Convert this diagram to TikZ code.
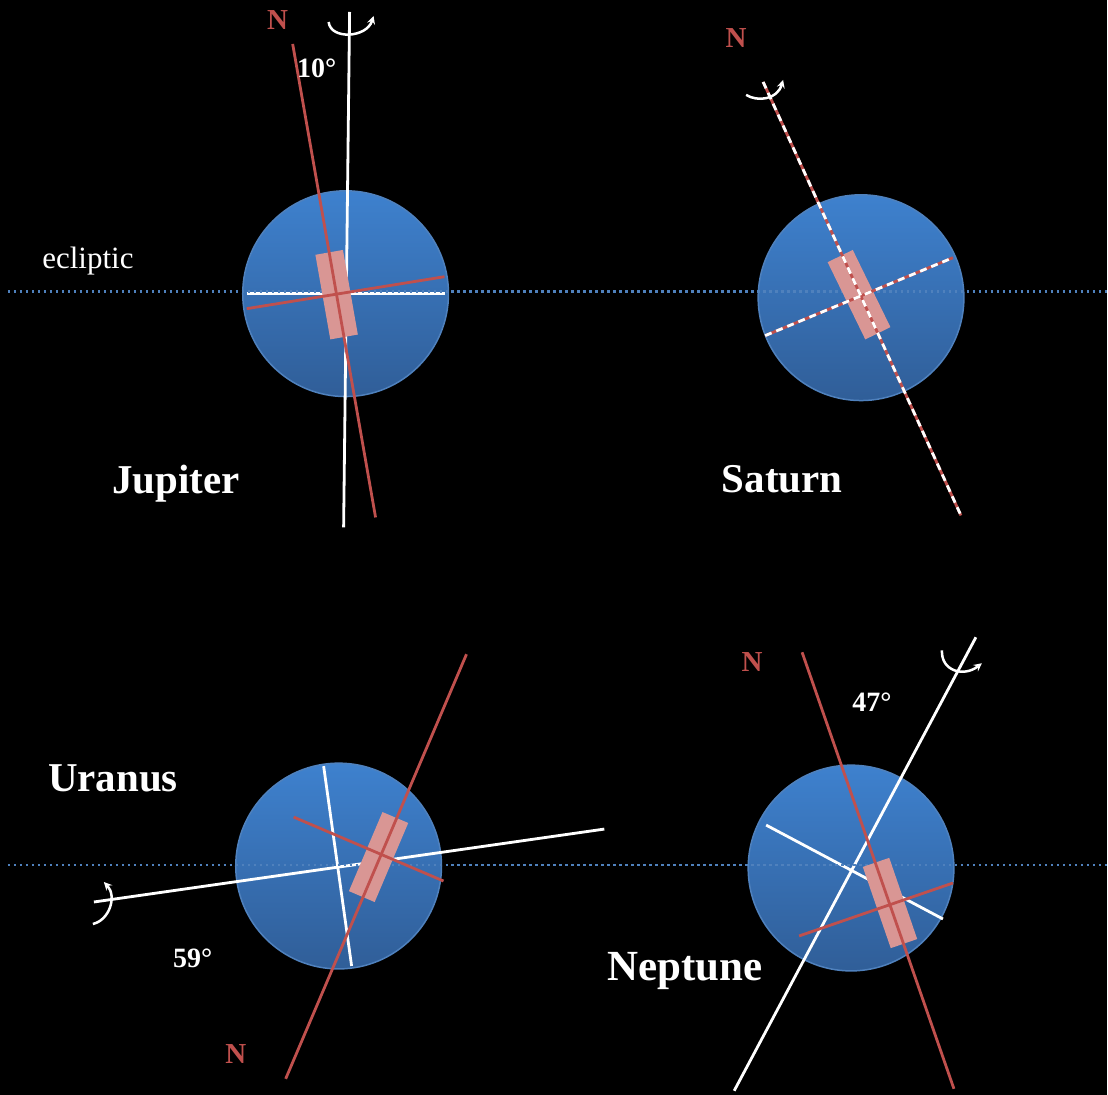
\documentclass[tikz,border=0pt]{standalone}
\usepackage{fontspec}
\setmainfont{Liberation Serif}
\definecolor{polered}{RGB}{192,80,77}
\definecolor{magnetpink}{RGB}{217,150,148}
\definecolor{eclipticblue}{RGB}{79,129,189}
\definecolor{planettop}{RGB}{62,129,206}
\definecolor{planetbottom}{RGB}{48,94,152}
\newcommand{\planetsize}{206pt}
\newcommand{\magnetlength}{86pt}
\newcommand{\magnetwidth}{28pt}
\tikzset{
    planet/.style={circle, draw=eclipticblue, line width=1.5pt, minimum size=\planetsize, inner sep=0pt,
        top color=planettop, bottom color=planetbottom},
    magnet/.style={rectangle, fill=magnetpink, minimum width=\magnetwidth, minimum height=\magnetlength, inner sep=0pt},
    spinaxis/.style={white, line width=2.8pt},
    magaxis/.style={polered, line width=2.8pt},
    mixaxis/.style={white, line width=2.8pt, dash pattern=on 7pt off 5pt},
    ecliptic/.style={eclipticblue, line width=2.5pt, dash pattern=on 2.5pt off 3.5pt},
    spin/.style={white, line width=2.5pt, ->, >=stealth},
    planetname/.style={text=white, font=\bfseries\fontsize{41}{44}\selectfont},
    tilt/.style={text=white, font=\bfseries\fontsize{28}{30}\selectfont},
    northlabel/.style={text=polered, font=\bfseries\fontsize{29}{30}\selectfont}
}

\begin{document}
\begin{tikzpicture}[x=1pt, y=-1pt]
    \fill[black] (0,0) rectangle (1108,1096);

    \node[planet] (jupiter) at (346,294) {};
    \node[planet] (saturn) at (862,298) {};
    \node[planet] (uranus) at (339,867) {};
    \node[planet] (neptune) at (852,869) {};

    % spin axes and equators
    \coordinate (jupSpinN) at (350,12);
    \coordinate (jupSpinS) at (344,528);
    \coordinate (jupEqW) at (247,294);
    \coordinate (jupEqE) at (445,294);
    \coordinate (uraSpinA) at (94,903);
    \coordinate (uraSpinB) at (605,830);
    \coordinate (uraEqN) at (324,767);
    \coordinate (uraEqS) at (352,967);
    \coordinate (nepSpinA) at (735,1092);
    \coordinate (nepSpinB) at (977,638);
    \coordinate (nepEqW) at (767,826);
    \coordinate (nepEqE) at (944,920);
    \draw[spinaxis] (jupSpinS) -- (jupSpinN);
    \draw[spinaxis] (jupEqW) -- (jupEqE);
    \draw[spinaxis] (uraSpinA) -- (uraSpinB);
    \draw[spinaxis] (uraEqN) -- (uraEqS);
    \draw[spinaxis] (nepSpinA) -- (nepSpinB);
    \draw[spinaxis] (nepEqW) -- (nepEqE);

    \coordinate (eclTopW) at (8,292);
    \coordinate (eclTopE) at (1108,292);
    \coordinate (eclBotW) at (8,866);
    \coordinate (eclBotE) at (1108,866);
    \draw[ecliptic] (eclTopW) -- (eclTopE);
    \draw[ecliptic] (eclBotW) -- (eclBotE);

    \node[magnet, rotate=10] (jupMag) at (337,295) {};
    \node[magnet, rotate=26] (satMag) at (860,295) {};
    \node[magnet, rotate=-23] (uraMag) at (379,858) {};
    \node[magnet, rotate=19] (nepMag) at (891,904) {};

    % magnetic axes and equators
    \coordinate (jupMagN) at (293,44);
    \coordinate (jupMagS) at (376,518);
    \coordinate (jupMagW) at (247,309);
    \coordinate (jupMagE) at (445,277);
    \coordinate (uraMagN) at (286,1080);
    \coordinate (uraMagS) at (467,655);
    \coordinate (uraMagW) at (294,818);
    \coordinate (uraMagE) at (444,882);
    \coordinate (nepMagN) at (803,653);
    \coordinate (nepMagS) at (955,1090);
    \coordinate (nepMagW) at (800,937);
    \coordinate (nepMagE) at (954,884);
    \draw[magaxis] (jupMagN) -- (jupMagS);
    \draw[magaxis] (jupMagW) -- (jupMagE);
    \draw[magaxis] (uraMagN) -- (uraMagS);
    \draw[magaxis] (uraMagW) -- (uraMagE);
    \draw[magaxis] (nepMagN) -- (nepMagS);
    \draw[magaxis] (nepMagW) -- (nepMagE);

    \coordinate (satAxisN) at (764,82);
    \coordinate (satAxisS) at (962,516);
    \coordinate (satEqW) at (766,336);
    \coordinate (satEqE) at (954,258);
    \draw[magaxis] (satAxisN) -- (satAxisS);
    \draw[magaxis] (satEqW) -- (satEqE);
    \draw[mixaxis] (satAxisN) -- (satAxisS);
    \draw[mixaxis] (satEqW) -- (satEqE);

    % sense of rotation
    \coordinate (jupSpinA) at (329,22);
    \coordinate (jupSpinB) at (374,16);
    \draw[spin] (jupSpinA) .. controls (331,40) and (367,38) .. (jupSpinB);
    \coordinate (satSpinA) at (747,95);
    \coordinate (satSpinB) at (784,80);
    \draw[spin] (satSpinA) .. controls (758,102) and (778,100) .. (satSpinB);
    \coordinate (uraSpinC) at (93,925);
    \coordinate (uraSpinD) at (104,883);
    \draw[spin] (uraSpinC) .. controls (110,921) and (117,897) .. (uraSpinD);
    \coordinate (nepSpinC) at (943,651);
    \coordinate (nepSpinD) at (983,664);
    \draw[spin] (nepSpinC) .. controls (942,672) and (965,678) .. (nepSpinD);

    \node[planetname] (jupName) at (176,484) {Jupiter};
    \node[planetname] (satName) at (783,480) {Saturn};
    \node[planetname] (uraName) at (113,779) {Uranus};
    \node[planetname, font=\bfseries\fontsize{43}{44}\selectfont] (nepName) at (686,972) {Neptune};
    \node[text=white, font=\fontsize{31}{32}\selectfont] (eclName) at (88,261) {ecliptic};

    \node[northlabel] (jupNorth) at (278,20) {N};
    \node[northlabel] (satNorth) at (737,38) {N};
    \node[northlabel] (uraNorth) at (236,1055) {N};
    \node[northlabel] (nepNorth) at (753,663) {N};

    \node[tilt] (jupTilt) at (317,68) {10°};
    \node[tilt] (uraTilt) at (193,959) {59°};
    \node[tilt] (nepTilt) at (873,703) {47°};
\end{tikzpicture}
\end{document}
